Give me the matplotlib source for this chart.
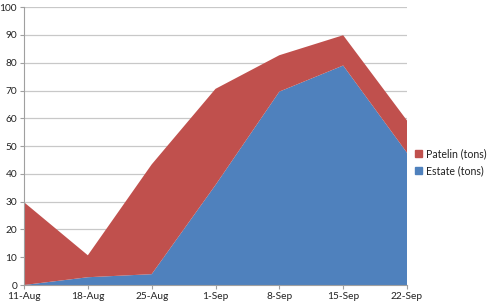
import numpy as np
import matplotlib.pyplot as plt
from matplotlib.patches import Patch

# data
weeks = ['11-Aug', '18-Aug', '25-Aug', '1-Sep', '8-Sep', '15-Sep', '22-Sep']
estate = [0, 2.8, 3.9, 36, 69.6, 79, 47.6]
patelin = [29.8, 7.9, 39.5, 34.6, 13.1, 10.9, 11.6]

plt.rcParams['font.family'] = ['Lato', 'DejaVu Sans']

fig = plt.figure(figsize=(5, 3.06), dpi=100)
ax = fig.add_axes([0.048, 0.0686, 0.766, 0.908])

x = np.arange(len(weeks))
ax.stackplot(x, estate, patelin, colors=['#4F81BD', '#C0504D'], zorder=2)

ax.set_xlim(0, len(weeks) - 1)
ax.set_ylim(0, 100)
ax.set_yticks(range(0, 101, 10))
ax.set_xticks(x)
ax.set_xticklabels(weeks)
ax.grid(axis='y', color='#c8c8c8', linewidth=0.9, zorder=0)

for s in ['top', 'right']:
    ax.spines[s].set_visible(False)
for s in ['left', 'bottom']:
    ax.spines[s].set_color('#a0a0a0')
ax.tick_params(axis='both', colors='#a0a0a0', labelcolor='#222222', labelsize=7.3, length=3)
ax.tick_params(axis='x', pad=2)
ax.tick_params(axis='y', pad=2)

handles = [Patch(color='#C0504D', label='Patelin (tons)'),
           Patch(color='#4F81BD', label='Estate (tons)')]
fig.legend(handles=handles, loc='center left', bbox_to_anchor=(0.83, 0.47),
           frameon=False, fontsize=7.6, handlelength=0.7, handleheight=0.7,
           handletextpad=0.3, labelspacing=0.6, labelcolor='#222222',
           borderpad=0, borderaxespad=0)

fig.savefig('out.png', dpi=100)
